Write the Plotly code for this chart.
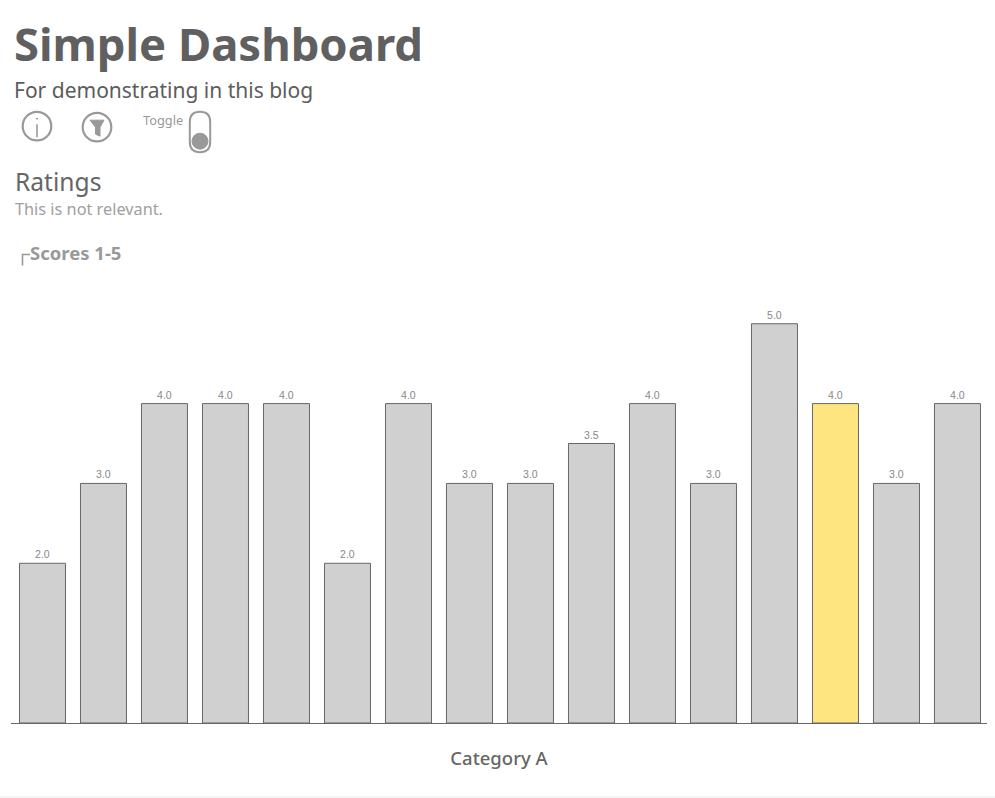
import plotly.graph_objects as go

W, H = 995, 798
FONT = "Noto Sans"

categories = ["C01", "C02", "C03", "C04", "C05", "C06", "C07", "C08",
              "C09", "C10", "C11", "C12", "C13", "C14", "C15", "C16"]
scores = [2.0, 3.0, 4.0, 4.0, 4.0, 2.0, 4.0, 3.0, 3.0, 3.5, 4.0, 3.0, 5.0, 4.0, 3.0, 4.0]
highlighted = "C14"
x_title = "Category A"

GREY, YELLOW, EDGE, ICON = "#d0d0d0", "#ffe580", "#666666", "#999999"
PLOT_L, PLOT_R, PLOT_T, PLOT_B = 11, 987, 283, 723.5


# the paper area is the plot area, so pixel positions are converted to it
def fx(x):
    return (x - PLOT_L) / (PLOT_R - PLOT_L)


def fy(y):
    return (PLOT_B - y) / (PLOT_B - PLOT_T)


def label(text, x, y, size, color, bold=False):
    return dict(text=f"<b>{text}</b>" if bold else text, x=fx(x - 2), y=fy(y), xref="paper", yref="paper",
                xanchor="left", yanchor="middle", showarrow=False, align="left",
                font=dict(family=FONT, size=size, color=color))


def circle(cx, cy, r, fill=None, width=2.2):
    return dict(type="circle", xref="paper", yref="paper", x0=fx(cx - r), x1=fx(cx + r),
                y0=fy(cy + r), y1=fy(cy - r),
                line=dict(color=ICON, width=width), fillcolor=fill or "rgba(0,0,0,0)", layer="above")


def path(points, closed=False, fill=None, width=2.0):
    d = "M " + " L ".join(f"{fx(a):.5f},{fy(b):.5f}" for a, b in points) + (" Z" if closed else "")
    return dict(type="path", xref="paper", yref="paper", path=d,
                line=dict(color=ICON, width=width), fillcolor=fill or "rgba(0,0,0,0)", layer="above")


def pill(x0, x1, y0, y1):
    r = (x1 - x0) / 2
    cmds = [f"M {fx(x0):.5f},{fy(y0 + r):.5f}",
            f"Q {fx(x0):.5f},{fy(y0):.5f} {fx(x0 + r):.5f},{fy(y0):.5f}",
            f"Q {fx(x1):.5f},{fy(y0):.5f} {fx(x1):.5f},{fy(y0 + r):.5f}",
            f"L {fx(x1):.5f},{fy(y1 - r):.5f}",
            f"Q {fx(x1):.5f},{fy(y1):.5f} {fx(x0 + r):.5f},{fy(y1):.5f}",
            f"Q {fx(x0):.5f},{fy(y1):.5f} {fx(x0):.5f},{fy(y1 - r):.5f}", "Z"]
    return dict(type="path", xref="paper", yref="paper", path=" ".join(cmds),
                line=dict(color=ICON, width=2), fillcolor="rgba(0,0,0,0)", layer="above")


colors = [YELLOW if c == highlighted else GREY for c in categories]

fig = go.Figure(go.Bar(
    x=categories, y=scores,
    marker=dict(color=colors, line=dict(color=EDGE, width=1)),
    text=scores, texttemplate="%{y:.1f}", textposition="outside", cliponaxis=False,
    textfont=dict(family="Liberation Sans", size=10.5, color="#888888"),
    width=0.754, hoverinfo="x+y",
))

shapes = [
    circle(37, 126, 14.3),
    path([(37, 124), (37, 137)], width=1.6),
    circle(37, 118.5, 0.6, fill=ICON, width=1),
    circle(97, 127, 14.3),
    path([(90, 120), (104, 120), (100, 127), (100, 136), (95.5, 134), (95.5, 127)], closed=True, fill=ICON, width=1),
    pill(189.8, 210.2, 111.5, 152),
    circle(200, 141, 8, fill=ICON, width=1),
    path([(22.5, 265.5), (22.5, 254.5), (30, 254.5)], width=1.6),
    dict(type="line", xref="paper", yref="paper", x0=fx(0), x1=fx(W), y0=fy(797.5), y1=fy(797.5),
         line=dict(color="#eeeeee", width=1)),
]

annotations = [
    label("Simple Dashboard", 14, 43, 45.4, "#606060", bold=True),
    label("For demonstrating in this blog", 14, 90, 21, "#5c5c5c"),
    label("Toggle", 143, 120, 12.8, "#999999"),
    label("Ratings", 15, 181.5, 24.6, "#666666"),
    label("This is not relevant.", 15, 209, 16.3, "#a0a0a0"),
    label("Scores 1-5", 30, 252, 18.5, "#999999", bold=True),
]

fig.update_layout(
    width=W, height=H, showlegend=False, paper_bgcolor="#ffffff", plot_bgcolor="#ffffff",
    margin=dict(l=PLOT_L, r=W - PLOT_R, t=PLOT_T, b=H - PLOT_B, pad=0),
    bargap=0.246, shapes=shapes, annotations=annotations,
    xaxis=dict(type="category", range=[-0.516, 15.484], showticklabels=False, ticks="", showgrid=False,
               showline=True, linecolor=EDGE, linewidth=1, zeroline=False,
               title=dict(text=x_title, standoff=29, font=dict(family=FONT, size=18.5, weight=500, color="#666666"))),
    yaxis=dict(range=[0, 5.51], visible=False, showgrid=False, zeroline=False),
)

fig.write_html("out.html", config=dict(displayModeBar=False),
               post_script="document.body.style.margin='0';document.body.style.overflow='hidden';")
